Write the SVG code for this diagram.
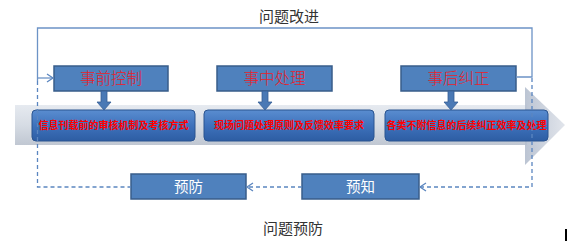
<svg xmlns="http://www.w3.org/2000/svg" width="571" height="247" viewBox="0 0 571 247">
<defs>
<style>
.top{fill:#4F81BD;stroke:#385D8A;stroke-width:1.5}
.toptxt{font-family:"Noto Sans CJK SC","Liberation Sans",sans-serif;font-size:15.5px;font-weight:300;fill:#E8202A;text-anchor:middle}
.bandbox{fill:url(#gBox);stroke:#2A5490;stroke-width:1}
.bandtxt{font-family:"Noto Sans CJK SC","Liberation Sans",sans-serif;font-size:10px;font-weight:bold;fill:#FF0000;text-anchor:middle}
.bot{fill:#4F81BD;stroke:#385D8A;stroke-width:1.5}
.bottxt{font-family:"Noto Sans CJK SC","Liberation Sans",sans-serif;font-size:14.5px;fill:#FFFFFF;text-anchor:middle}
.title{font-family:"Noto Sans CJK SC","Liberation Sans",sans-serif;font-size:15px;fill:#333333;text-anchor:middle}
.solid{fill:none;stroke:#6C93C6;stroke-width:1.3}
.dash{fill:none;stroke:#5B86C0;stroke-width:1.3;stroke-dasharray:4 3}
.darrow{fill:#4A79B5;stroke:#355E96;stroke-width:0.8}
</style>
<linearGradient id="gBand" x1="0" y1="0" x2="0" y2="1">
<stop offset="0" stop-color="#E6EAF0"/>
<stop offset="0.5" stop-color="#D6DCE4"/>
<stop offset="1" stop-color="#C0C7D2"/>
</linearGradient>
<linearGradient id="gHead" x1="0" y1="0" x2="1" y2="0">
<stop offset="0" stop-color="#B4BECE"/>
<stop offset="1" stop-color="#DEE2E9"/>
</linearGradient>
<linearGradient id="gBox" x1="0" y1="0" x2="0" y2="1">
<stop offset="0" stop-color="#5A8DD0"/>
<stop offset="0.5" stop-color="#3E72BC"/>
<stop offset="1" stop-color="#2D5DA3"/>
</linearGradient>
<marker id="open" markerWidth="10" markerHeight="10" refX="8" refY="5" orient="auto" markerUnits="userSpaceOnUse">
<path d="M2,1 L8,5 L2,9" fill="none" stroke="#5B86C0" stroke-width="1.3"/>
</marker>
</defs>

<text class="title" x="289" y="22">问题改进</text>
<text class="title" x="293" y="234">问题预防</text>

<g id="band">
<rect x="15" y="105" width="512" height="40" fill="url(#gBand)"/>
<polygon points="525,87 565,125 525,165" fill="url(#gHead)" opacity="0.9"/>
</g>

<g id="box-a">
<rect class="bandbox" x="32" y="110" width="163" height="31" rx="4"/>
<text class="bandtxt" x="113.5" y="129">信息刊载前的审核机制及考核方式</text>
</g>
<g id="box-b">
<rect class="bandbox" x="204" y="110" width="170" height="31" rx="4"/>
<text class="bandtxt" x="289" y="129">现场问题处理原则及反馈效率要求</text>
</g>
<g id="box-c">
<rect class="bandbox" x="385" y="110" width="163" height="31" rx="4"/>
<text class="bandtxt" x="466.5" y="129">各类不附信息的后续纠正效率及处理</text>
</g>

<g id="node-1">
<rect class="top" x="54" y="66" width="114" height="25"/>
<text class="toptxt" x="111" y="84">事前控制</text>
</g>
<g id="node-2">
<rect class="top" x="217" y="66" width="115" height="25"/>
<text class="toptxt" x="274.5" y="84">事中处理</text>
</g>
<g id="node-3">
<rect class="top" x="401" y="66" width="115" height="25"/>
<text class="toptxt" x="458.5" y="84">事后纠正</text>
</g>

<g id="node-yufang">
<rect class="bot" x="131" y="174" width="115" height="25"/>
<text class="bottxt" x="188.5" y="192">预防</text>
</g>
<g id="node-yuzhi">
<rect class="bot" x="302" y="174" width="117" height="25"/>
<text class="bottxt" x="360.5" y="192">预知</text>
</g>

<g id="connectors">
<path class="darrow" d="M101,91 H107 V102 H111 L104,110 L97,102 H101 Z"/>
<path class="darrow" d="M262,91 H268 V102 H272 L265,110 L258,102 H262 Z"/>
<path class="darrow" d="M448,91 H454 V102 H458 L451,110 L444,102 H448 Z"/>
<path class="solid" d="M37.5,81 V28 H532 V77 H516"/>
<path class="solid" d="M37.5,78 H53" marker-end="url(#open)"/>
<path class="dash" d="M37.5,81 V187 H131"/>
<path class="dash" d="M532,78 V187 H420" marker-end="url(#open)"/>
<path class="dash" d="M302,187 H247" marker-end="url(#open)"/>
</g>

<rect x="565" y="229" width="2" height="12" fill="#000000"/>
</svg>
